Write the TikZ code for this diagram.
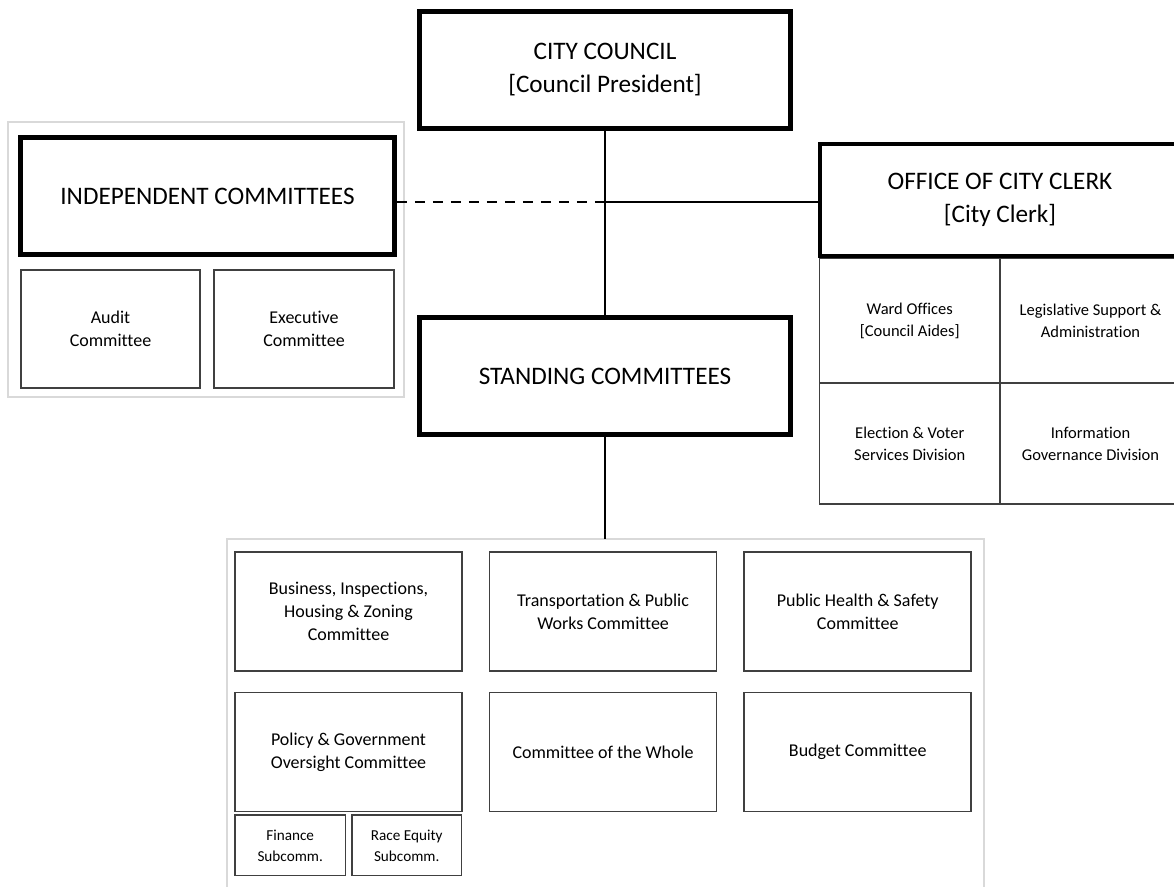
\documentclass[tikz,border=0pt]{standalone}
\usepackage{fontspec}
\setmainfont{Carlito}[Ligatures=NoCommon]
\usetikzlibrary{positioning}

\begin{document}
\begin{tikzpicture}[x=1pt, y=-1pt,
main/.style = {draw, rectangle, line width=4.5pt, inner sep=0pt, align=center, font=\fontsize{25.2}{33}\selectfont},
box/.style = {draw=black!75, rectangle, line width=1.6pt, inner sep=0pt, align=center, font=\fontsize{18}{23}\selectfont},
cell/.style = {box, font=\fontsize{16.5}{22}\selectfont},
small/.style = {box, font=\fontsize{15.2}{21}\selectfont},
frame/.style = {draw=black!15, line width=1.5pt},
link/.style = {line width=1.8pt}]
\path[use as bounding box, clip] (0,0) rectangle (1174,886);
\draw[frame] (8,122) rectangle (404,397);
\draw[frame] (227,539) rectangle (984,900);
\node[main, minimum width=371pt, minimum height=117pt] (cc) at (605,70) {CITY COUNCIL\\{}[Council President]};
\node[main, minimum width=374pt, minimum height=117pt] (ic) at (207.5,196) {INDEPENDENT COMMITTEES};
\node[main, minimum width=360pt, minimum height=112pt] (oc) at (1000,200) {OFFICE OF CITY CLERK\\{}[City Clerk]};
\node[main, minimum width=371pt, minimum height=117pt] (sc) at (605,376) {STANDING COMMITTEES};
\node[box, minimum width=179pt, minimum height=118pt] (audit) at (110.5,329) {Audit\\Committee};
\node[box, minimum width=180pt, minimum height=118pt] (exec) at (304,329) {Executive\\Committee};
\node[cell, minimum width=180.5pt, minimum height=124.5pt] (ward) at (909.75,320.75) {Ward Offices\\{}[Council Aides]};
\node[cell, minimum width=181pt, minimum height=124.5pt] (legis) at (1090.5,320.75) {Legislative Support \&\\Administration};
\node[cell, minimum width=180.5pt, minimum height=121pt] (elect) at (909.75,443.5) {Election \& Voter\\Services Division};
\node[cell, minimum width=181pt, minimum height=121pt] (info) at (1090.5,443.5) {Information\\Governance Division};
\node[box, minimum width=227pt, minimum height=119pt] (b1) at (348.5,611.5) {Business, Inspections,\\Housing \& Zoning\\Committee};
\node[box, minimum width=227pt, minimum height=119pt] (b2) [right=26pt of b1] {Transportation \& Public\\Works Committee};
\node[box, minimum width=227pt, minimum height=119pt] (b3) [right=26pt of b2] {Public Health \& Safety\\Committee};
\node[box, minimum width=227pt, minimum height=119pt] (p1) [below=20pt of b1] {Policy \& Government\\Oversight Committee};
\node[box, minimum width=227pt, minimum height=119pt] (p2) [below=20pt of b2] {Committee of the Whole};
\node[box, minimum width=227pt, minimum height=119pt] (p3) [below=20pt of b3] {Budget Committee};
\node[small, minimum width=110.4pt, minimum height=60.4pt] (fin) [below=2pt of p1.south west, anchor=north west] {Finance\\Subcomm.};
\node[small, minimum width=109.4pt, minimum height=60.4pt] (race) [right=5pt of fin] {Race Equity\\Subcomm.};
\coordinate (j) at (605,202);
\coordinate (t) at (605,539);
\draw[link] (cc) -- (sc);
\draw[link, dash pattern=on 10pt off 8pt] (ic.east |- j) -- (j);
\draw[link] (j) -- (j -| oc.west);
\draw[link] (sc) -- (t);
\end{tikzpicture}
\end{document}
